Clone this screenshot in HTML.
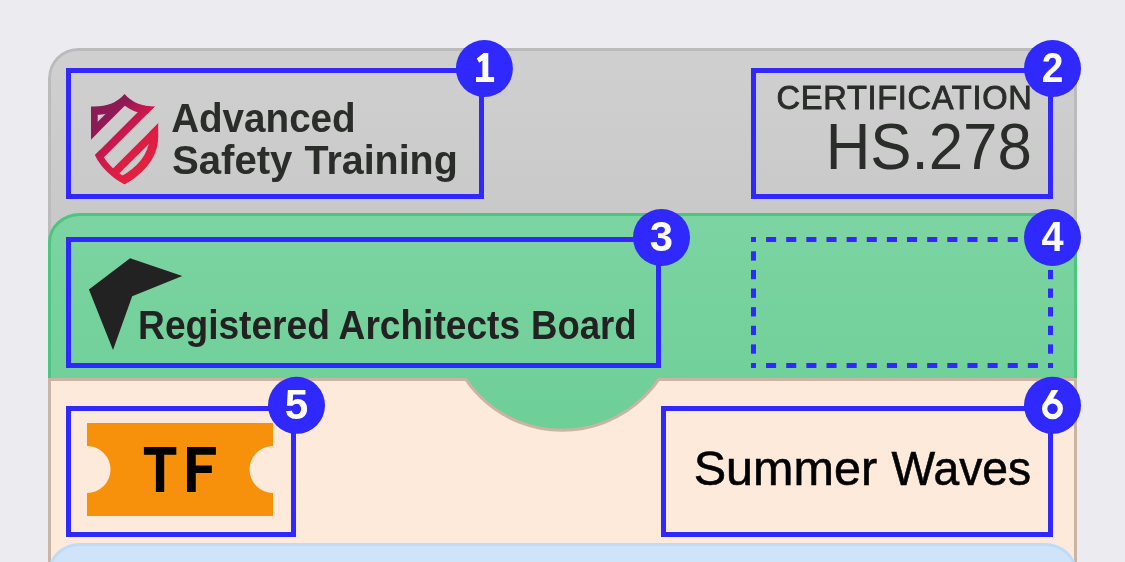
<!DOCTYPE html>
<html><head><meta charset="utf-8"><title>Pass layout</title>
<style>html,body{margin:0;padding:0;background:#ebebf0;overflow:hidden}svg{display:block}</style></head>
<body><svg width="1125" height="562" viewBox="0 0 1125 562">
<g opacity="0.999"><rect width="1125" height="562" fill="#ebebf0"/>
<defs>
<clipPath id="card"><rect x="48" y="48" width="1029" height="700" rx="30" ry="30"/></clipPath>
<clipPath id="peachclip"><rect x="48" y="378" width="1029" height="300"/></clipPath>
<linearGradient id="gg" gradientUnits="userSpaceOnUse" x1="0" y1="48" x2="0" y2="213"><stop offset="0" stop-color="#d0d0d0"/><stop offset="1" stop-color="#c9c9c9"/></linearGradient>
<linearGradient id="grn" gradientUnits="userSpaceOnUse" x1="0" y1="213" x2="0" y2="430"><stop offset="0" stop-color="#7cd4a2"/><stop offset="1" stop-color="#6ecf97"/></linearGradient>
</defs>
<g clip-path="url(#card)"><rect x="49.5" y="49.5" width="1026" height="400" rx="28.5" ry="28.5" fill="url(#gg)" stroke="#bbbbbb" stroke-width="3"/><rect x="49.5" y="214.5" width="1026" height="400" rx="30.5" ry="28" fill="url(#grn)" stroke="#4dc47f" stroke-width="3"/><rect x="49.5" y="379.5" width="1026" height="400" fill="#feeadb" stroke="#cbb4a3" stroke-width="3"/><g clip-path="url(#peachclip)"><circle cx="562.25" cy="313.3" r="117" fill="url(#grn)" stroke="#cbb4a3" stroke-width="3"/></g><rect x="49.5" y="544.5" width="1026" height="400" rx="30.5" ry="28" fill="#d0e4f9" stroke="#c0dbf5" stroke-width="3"/></g>

<defs>
<linearGradient id="sg" gradientUnits="userSpaceOnUse" x1="100" y1="120" x2="145" y2="165">
<stop offset="0" stop-color="#8c1a55"/><stop offset="0.1" stop-color="#901a55"/><stop offset="0.33" stop-color="#c3174f"/><stop offset="0.55" stop-color="#d41a4a"/><stop offset="0.75" stop-color="#dd1d44"/><stop offset="1" stop-color="#e32040"/></linearGradient>
<clipPath id="shc"><path d="M91,106.5 Q113,107.5 124.6,94 Q136.2,107.5 158.2,106.5 L158.2,137 C158.2,160 140,176 124.6,184.4 C109,176 91,160 91,137 Z"/></clipPath>
<mask id="shm" maskUnits="userSpaceOnUse" x="80" y="85" width="90" height="110">
 <g fill="none" stroke="#fff" stroke-linejoin="miter">
 <path d="M124.6,184.4 C109,176 91,160 91,137 L91,106.5" stroke-width="13.4"/>
 <path d="M91,106.5 Q113,107.5 124.6,94 Q136.2,107.5 158.2,106.5" stroke-width="16.6"/>
 <path d="M158.2,106.5 L158.2,137 C158.2,160 140,176 124.6,184.4" stroke-width="17.4"/>
 </g>
 <!-- gap1 cuts outline on lower-left -->
 <polygon fill="#000" points="80,150.5 100,130.5 100,150 80,170"/>
 <!-- gap2 cuts outline on upper-right -->
 <polygon fill="#000" points="170,91.3 140,121.3 140,141.4 170,111.4"/>
 <!-- stripes: bands in x+y -->
 <polygon fill="#fff" points="80,139.5 170,49.5 170,60.5 80,150.5"/>
 <polygon fill="#fff" points="80,170 170,80 170,91.3 80,181.3"/>
 <polygon fill="#fff" points="80,201.4 170,111.4 170,122.7 80,212.7"/>
</mask>
</defs>
<g clip-path="url(#shc)"><rect x="80" y="85" width="90" height="110" fill="url(#sg)" mask="url(#shm)"/></g>

<text transform="translate(171.16,131.8) scale(0.9417,1)" font-family="Liberation Sans" font-size="41" font-weight="bold" fill="#2b2d2b" >Advanced</text>
<text transform="translate(172.01,173.5) scale(0.9933,1)" font-family="Liberation Sans" font-size="40.4" font-weight="bold" fill="#2b2d2b" >Safety</text>
<text transform="translate(304.50,173.5) scale(0.9755,1)" font-family="Liberation Sans" font-size="40.4" font-weight="bold" fill="#2b2d2b" >Training</text>
<text x="776.6" y="108.6" font-family="Liberation Sans" font-size="32.6" fill="#2b2d2b" stroke="#2b2d2b" stroke-width="0.9" letter-spacing="0.7">CERTIFICATION</text>
<text transform="translate(825.63,168.8) scale(0.9543,1)" font-family="Liberation Sans" font-size="64.8" font-weight="normal" fill="#2b2d2b" >HS.278</text>
<polygon points="88.9,289.4 130.1,258.2 182.3,275.9 132.2,296.2 113,350" fill="#222222"/>
<text transform="translate(138.08,338.5) scale(0.9053,1)" font-family="Liberation Sans" font-size="41" font-weight="bold" fill="#222222" >Registered</text>
<text transform="translate(338.59,338.5) scale(0.9051,1)" font-family="Liberation Sans" font-size="41" font-weight="bold" fill="#222222" >Architects</text>
<text transform="translate(531.02,338.5) scale(0.8920,1)" font-family="Liberation Sans" font-size="41" font-weight="bold" fill="#222222" >Board</text>
<path d="M87,423 H273 V446 A23.5,23.5 0 0 0 273,493 V516 H87 V493 A23.5,23.5 0 0 0 87,446 Z" fill="#f7900b"/>
<path fill="#000" d="M143.9,447.1 H176.3 V454.7 H164.2 V492 H155.9 V454.7 H143.9 Z M187,447.1 H215.9 V454.7 H195.75 V465.5 H211.8 V473 H195.75 V492 H187 Z"/>
<text transform="translate(693.72,484.8) scale(0.9944,1)" font-family="Liberation Sans" font-size="48.8" font-weight="normal" fill="#000" stroke="#000" stroke-width="0.6">Summer</text>
<text transform="translate(891.50,484.8) scale(0.9479,1)" font-family="Liberation Sans" font-size="48.8" font-weight="normal" fill="#000" stroke="#000" stroke-width="0.6">Waves</text>
<rect x="68.5" y="70.5" width="413" height="126" fill="none" stroke="#2f28ff" stroke-width="5"/>
<rect x="753.5" y="70.5" width="297" height="126" fill="none" stroke="#2f28ff" stroke-width="5"/>
<rect x="68.5" y="239.5" width="590" height="126" fill="none" stroke="#2f28ff" stroke-width="5"/>
<g fill="#2f28ff"><rect x="751.00" y="237.00" width="5.00" height="5.00"/><rect x="751.00" y="363.00" width="5.00" height="5.00"/><rect x="1048.00" y="237.00" width="5.00" height="5.00"/><rect x="1048.00" y="363.00" width="5.00" height="5.00"/><rect x="766.07" y="237.00" width="10.07" height="5.00"/><rect x="766.07" y="363.00" width="10.07" height="5.00"/><rect x="786.21" y="237.00" width="10.07" height="5.00"/><rect x="786.21" y="363.00" width="10.07" height="5.00"/><rect x="806.34" y="237.00" width="10.07" height="5.00"/><rect x="806.34" y="363.00" width="10.07" height="5.00"/><rect x="826.48" y="237.00" width="10.07" height="5.00"/><rect x="826.48" y="363.00" width="10.07" height="5.00"/><rect x="846.62" y="237.00" width="10.07" height="5.00"/><rect x="846.62" y="363.00" width="10.07" height="5.00"/><rect x="866.76" y="237.00" width="10.07" height="5.00"/><rect x="866.76" y="363.00" width="10.07" height="5.00"/><rect x="886.90" y="237.00" width="10.07" height="5.00"/><rect x="886.90" y="363.00" width="10.07" height="5.00"/><rect x="907.03" y="237.00" width="10.07" height="5.00"/><rect x="907.03" y="363.00" width="10.07" height="5.00"/><rect x="927.17" y="237.00" width="10.07" height="5.00"/><rect x="927.17" y="363.00" width="10.07" height="5.00"/><rect x="947.31" y="237.00" width="10.07" height="5.00"/><rect x="947.31" y="363.00" width="10.07" height="5.00"/><rect x="967.45" y="237.00" width="10.07" height="5.00"/><rect x="967.45" y="363.00" width="10.07" height="5.00"/><rect x="987.59" y="237.00" width="10.07" height="5.00"/><rect x="987.59" y="363.00" width="10.07" height="5.00"/><rect x="1007.72" y="237.00" width="10.07" height="5.00"/><rect x="1007.72" y="363.00" width="10.07" height="5.00"/><rect x="1027.86" y="237.00" width="10.07" height="5.00"/><rect x="1027.86" y="363.00" width="10.07" height="5.00"/><rect x="751.00" y="251.31" width="5.00" height="9.31"/><rect x="1048.00" y="251.31" width="5.00" height="9.31"/><rect x="751.00" y="269.92" width="5.00" height="9.31"/><rect x="1048.00" y="269.92" width="5.00" height="9.31"/><rect x="751.00" y="288.54" width="5.00" height="9.31"/><rect x="1048.00" y="288.54" width="5.00" height="9.31"/><rect x="751.00" y="307.15" width="5.00" height="9.31"/><rect x="1048.00" y="307.15" width="5.00" height="9.31"/><rect x="751.00" y="325.77" width="5.00" height="9.31"/><rect x="1048.00" y="325.77" width="5.00" height="9.31"/><rect x="751.00" y="344.38" width="5.00" height="9.31"/><rect x="1048.00" y="344.38" width="5.00" height="9.31"/></g>
<rect x="68.5" y="408.5" width="225" height="126" fill="none" stroke="#2f28ff" stroke-width="5"/>
<rect x="663.5" y="408.5" width="387" height="126" fill="none" stroke="#2f28ff" stroke-width="5"/>
<circle cx="484.4" cy="68.5" r="28.5" fill="#2f28ff"/><path transform="translate(484.4,68.5)" fill="#fff" d="M-0.6,-15.4 H3.9 V8.6 H9.7 V13.4 H-8.4 V8.6 H-2 V-7.9 L-5.2,-5.7 L-7.7,-10 Z"/>
<circle cx="1052.5" cy="68.5" r="28.5" fill="#2f28ff"/><text transform="translate(1052.5,82.0) scale(0.92,1)" text-anchor="middle" font-family="Liberation Sans" font-weight="bold" font-size="42.3" fill="#fff">2</text>
<circle cx="661.5" cy="237.5" r="28.5" fill="#2f28ff"/><text transform="translate(661.5,251.0) scale(0.99,1)" text-anchor="middle" font-family="Liberation Sans" font-weight="bold" font-size="42.3" fill="#fff">3</text>
<circle cx="1052.5" cy="237.5" r="28.5" fill="#2f28ff"/><text transform="translate(1052.5,251.0) scale(0.94,1)" text-anchor="middle" font-family="Liberation Sans" font-weight="bold" font-size="42.3" fill="#fff">4</text>
<circle cx="296.5" cy="405.3" r="28.5" fill="#2f28ff"/><text transform="translate(296.5,418.8) scale(1.0,1)" text-anchor="middle" font-family="Liberation Sans" font-weight="bold" font-size="42.3" fill="#fff">5</text>
<circle cx="1052.5" cy="405.3" r="28.5" fill="#2f28ff"/><g transform="translate(1052.5,405.3)"><circle cx="0" cy="3.45" r="7.85" fill="none" stroke="#fff" stroke-width="5.3"/><polygon fill="#fff" points="-0.9,-15.2 5.85,-15.2 -2.85,-1 -9.8,0.2"/></g></g>
</svg></body></html>
